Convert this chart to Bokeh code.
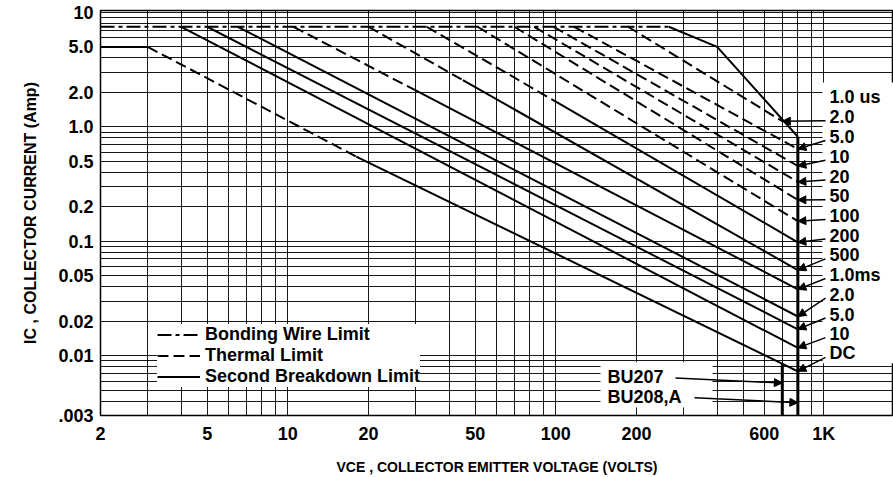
import math
from bokeh.plotting import figure
from bokeh.models import (Range1d, FixedTicker, Title, Arrow, NormalHead, BoxAnnotation,
                          Legend, LegendItem, CustomJSTickFormatter)
from bokeh.core.properties import value
from bokeh.embed import file_html
from bokeh.resources import INLINE

# ---------------- data ----------------
x_ticks = [2, 5, 10, 20, 50, 100, 200, 600, 1000]
x_tick_labels = ["2", "5", "10", "20", "50", "100", "200", "600", "1K"]
y_ticks = [0.003, 0.01, 0.02, 0.05, 0.1, 0.2, 0.5, 1, 2, 5, 10]
y_tick_labels = [".003", "0.01", "0.02", "0.05", "0.1", "0.2", "0.5", "1.0", "2.0", "5.0", "10"]

bond_wire_v = [2, 264]
bond_wire_i = [7.5, 7.5]

pulse_labels = ["1.0 us", "2.0", "5.0", "10", "20", "50", "100", "200", "500",
                "1.0ms", "2.0", "5.0", "10", "DC"]
curve_v = [
    [264, 400, 800],
    [186, 700],
    [117, 800],
    [98, 800],
    [83, 800],
    [70, 800],
    [51, 800],
    [33, 100, 800],
    [20, 45, 800],
    [10.5, 30, 800],
    [6.5, 800],
    [5, 800],
    [4, 800],
    [2, 3, 18, 800],
]
curve_i = [
    [7.5, 5.0, 0.82],
    [7.5, 1.12],
    [7.5, 0.64],
    [7.5, 0.455],
    [7.5, 0.33],
    [7.5, 0.23],
    [7.5, 0.15],
    [7.5, 1.66, 0.098],
    [7.5, 2.56, 0.056],
    [7.5, 2.08, 0.038],
    [7.5, 0.022],
    [7.5, 0.017],
    [7.5, 0.0117],
    [5.0, 5.0, 0.55, 0.0073],
]
# limit type of each segment: T = thermal, B = second breakdown
segment_type = ["BB", "T", "T", "T", "T", "T", "T", "TB", "TB", "TB", "B", "B", "B", "BTB"]

device_labels = ["BU207", "BU208,A"]
device_vceo = [700, 800]

legend_labels = ["Bonding Wire Limit", "Thermal Limit", "Second Breakdown Limit"]

# ---------------- geometry ----------------
W, H = 893, 477
FR_L, FR_R, FR_T, FR_B = 100, 893, 10, 421      # frame edges in page pixels
X_DEC = 268.0
x_start = 2.0
x_end = x_start * 10 ** ((FR_R - FR_L) / X_DEC)
y_start = 0.003
Y10_PY = 12
Y_DEC = (FR_B - Y10_PY) / math.log10(10 / y_start)
y_end = 10 * 10 ** ((Y10_PY - FR_T) / Y_DEC)


def px_to_v(px):
    return x_start * 10 ** ((px - FR_L) / X_DEC)


def py_to_i(py):
    return y_start * 10 ** ((FR_B - py) / Y_DEC)


def loglog_interp(vs, cs, v):
    for k in range(len(vs) - 1):
        if vs[k] <= v <= vs[k + 1]:
            t = (math.log10(v) - math.log10(vs[k])) / (math.log10(vs[k + 1]) - math.log10(vs[k]))
            return 10 ** (math.log10(cs[k]) + t * (math.log10(cs[k + 1]) - math.log10(cs[k])))
    return cs[-1]


FONT = "Liberation Sans"

p = figure(width=W, height=H, x_axis_type="log", y_axis_type="log",
           x_range=Range1d(x_start, x_end), y_range=Range1d(y_start, y_end),
           output_backend="svg", toolbar_location=None,
           min_border_left=FR_L, min_border_right=0,
           min_border_top=FR_T, min_border_bottom=H - FR_B)
p.background_fill_color = "white"
p.border_fill_color = "white"
p.outline_line_color = "black"
p.outline_line_width = 1.5

fmt_code = """
const i = tv.findIndex(t => Math.abs(Math.log10(t) - Math.log10(tick)) < 1e-6);
return i >= 0 ? tl[i] : "";
"""
p.xaxis.ticker = FixedTicker(ticks=x_ticks)
p.xaxis.formatter = CustomJSTickFormatter(args=dict(tv=x_ticks, tl=x_tick_labels), code=fmt_code)
p.yaxis.ticker = FixedTicker(ticks=y_ticks)
p.yaxis.formatter = CustomJSTickFormatter(args=dict(tv=y_ticks, tl=y_tick_labels), code=fmt_code)
for ax in (p.xaxis[0], p.yaxis[0]):
    ax.axis_line_color = None
    ax.major_tick_line_color = None
    ax.minor_tick_line_color = None
    ax.major_tick_out = 0
    ax.major_tick_in = 0
    ax.major_label_text_font = FONT
    ax.major_label_text_font_style = "bold"
    ax.major_label_text_font_size = "18px"
    ax.major_label_text_color = "black"
p.xaxis.major_label_standoff = 8
p.yaxis.major_label_standoff = 7
p.xaxis.axis_label = "VCE , COLLECTOR EMITTER VOLTAGE (VOLTS)"
p.xaxis.axis_label_text_font = FONT
p.xaxis.axis_label_text_font_style = "bold"
p.xaxis.axis_label_text_font_size = "14px"
p.xaxis.axis_label_text_color = "black"
p.xaxis.axis_label_standoff = 12

# y axis title (placed outside the tick labels, shifted up like the original)
p.add_layout(Title(text="IC , COLLECTOR CURRENT (Amp)", align="center", offset=60,
                   standoff=34, text_font=FONT, text_font_style="bold",
                   text_font_size="16px", text_color="black"), "left")

# log grid
grid_x = [m * 10 ** e for e in range(0, 4) for m in range(1, 10) if x_start <= m * 10 ** e <= x_end]
grid_y = [m * 10 ** e for e in range(-3, 2) for m in range(1, 10) if y_start <= m * 10 ** e <= y_end]
p.xgrid.ticker = FixedTicker(ticks=grid_x)
p.ygrid.ticker = FixedTicker(ticks=grid_y)
for g in (p.xgrid[0], p.ygrid[0]):
    g.grid_line_color = "black"
    g.grid_line_width = 1
    g.grid_line_alpha = 0.9

# white boxes covering the grid behind the annotation texts
for (l, r, t, b) in [(822, FR_R, 83, 368), (600, 712, 367, 413)]:
    p.add_layout(BoxAnnotation(left=px_to_v(l), right=px_to_v(r), top=py_to_i(t), bottom=py_to_i(b),
                               fill_color="white", fill_alpha=1, line_color=None, level="underlay"))

# ---------------- curves ----------------
th_xs, th_ys, sb_xs, sb_ys = [], [], [], []
for vs, cs, types in zip(curve_v, curve_i, segment_type):
    for k, t in enumerate(types):
        if t == "T":
            th_xs.append([vs[k], vs[k + 1]]); th_ys.append([cs[k], cs[k + 1]])
        else:
            sb_xs.append([vs[k], vs[k + 1]]); sb_ys.append([cs[k], cs[k + 1]])

r_bond = p.line(bond_wire_v, bond_wire_i, line_color="black", line_width=2.2, line_dash="14 4 4 4")
r_th = p.multi_line(th_xs, th_ys, line_color="black", line_width=2.0, line_dash="11 5")
r_sb = p.multi_line(sb_xs, sb_ys, line_color="black", line_width=2.0)

# device VCEO limits
dc_v, dc_i = curve_v[-1], curve_i[-1]
p.line([device_vceo[1], device_vceo[1]], [curve_i[0][-1], y_start], line_color="black", line_width=3)
p.line([device_vceo[0], device_vceo[0]], [loglog_interp(dc_v, dc_i, device_vceo[0]), y_start],
       line_color="black", line_width=3)

# pulse-width labels with arrows
LBL_PX, LBL_PY0, LBL_STEP = 829, 98, 20
lx = [px_to_v(LBL_PX)] * len(pulse_labels)
ly = [py_to_i(LBL_PY0 + LBL_STEP * k) for k in range(len(pulse_labels))]
p.text(x=lx, y=ly, text=pulse_labels, text_font=value(FONT), text_font_style="bold",
       text_font_size="18px", text_align="left", text_baseline="middle", text_color="black")
for k in range(1, len(pulse_labels)):
    p.add_layout(Arrow(end=NormalHead(size=8, fill_color="black", line_color="black"),
                       x_start=px_to_v(LBL_PX - 4), y_start=py_to_i(LBL_PY0 + LBL_STEP * k + 4),
                       x_end=curve_v[k][-1], y_end=curve_i[k][-1],
                       line_color="black", line_width=1.5))

# device labels with arrows
DEV_PX, DEV_PY = 607, [382, 402]
DEV_TAIL_PX = [675, 694]
p.text(x=[px_to_v(DEV_PX)] * 2, y=[py_to_i(v) for v in DEV_PY], text=device_labels,
       text_font=value(FONT), text_font_style="bold", text_font_size="18px",
       text_align="left", text_baseline="middle", text_color="black")
for k in range(2):
    p.add_layout(Arrow(end=NormalHead(size=8, fill_color="black", line_color="black"),
                       x_start=px_to_v(DEV_TAIL_PX[k]), y_start=py_to_i(DEV_PY[k] + 1),
                       x_end=device_vceo[k], y_end=py_to_i(DEV_PY[k] + 6),
                       line_color="black", line_width=1.5))

# legend
legend = Legend(items=[LegendItem(label=legend_labels[0], renderers=[r_bond]),
                       LegendItem(label=legend_labels[1], renderers=[r_th]),
                       LegendItem(label=legend_labels[2], renderers=[r_sb])],
                location=(57, FR_B - 393), orientation="vertical")
legend.label_text_font = FONT
legend.label_text_font_style = "bold"
legend.label_text_font_size = "18px"
legend.label_text_color = "black"
legend.glyph_width = 43
legend.glyph_height = 19
legend.label_height = 19
legend.label_standoff = 5
legend.spacing = 0
legend.padding = 4
legend.margin = 0
legend.border_line_color = None
legend.background_fill_color = "white"
legend.background_fill_alpha = 1
p.add_layout(legend)

open("out.html", "w").write(file_html(p, INLINE))
